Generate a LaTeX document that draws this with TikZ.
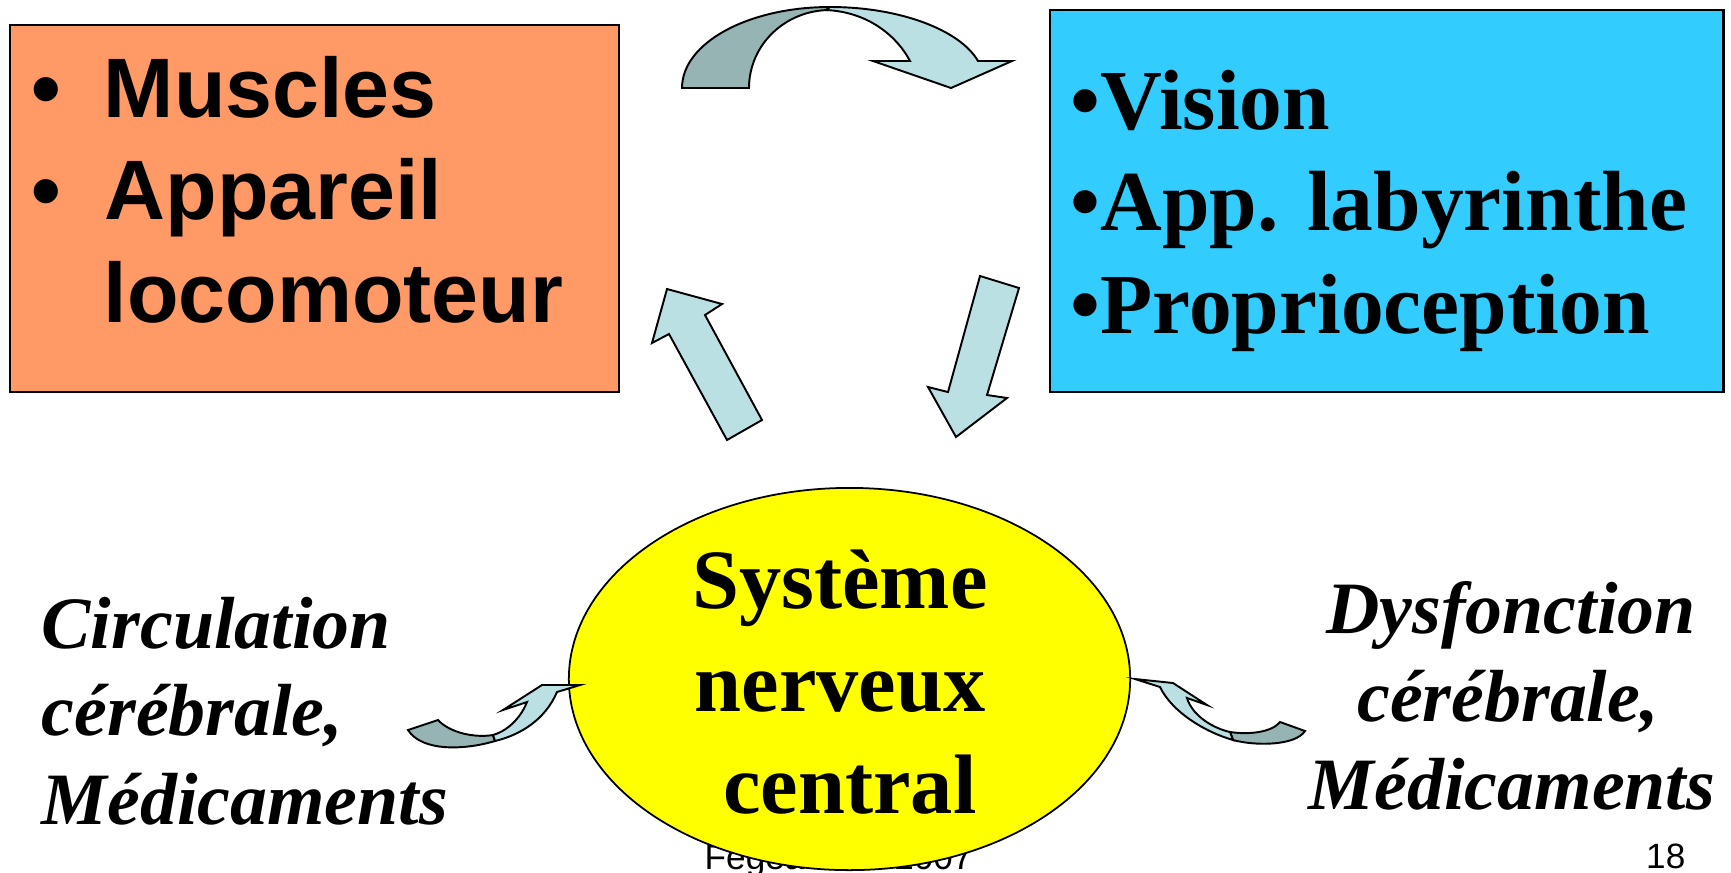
\documentclass[tikz,border=0pt]{standalone}
\usepackage{fontspec}
\setmainfont{Liberation Serif}
\newfontfamily\arialf{Liberation Sans}
\usetikzlibrary{shapes.geometric}
\definecolor{boxorange}{HTML}{FF9966}
\definecolor{boxblue}{HTML}{33CCFF}
\definecolor{boxyellow}{HTML}{FFFF00}
\definecolor{arrlight}{RGB}{186,224,228}
\definecolor{arrdark}{RGB}{150,180,180}
\tikzset{
  panel/.style={draw=black, line width=0.6pt, anchor=north west, inner sep=0pt},
  arrowlight/.style={fill=arrlight, draw=black, line width=0.55pt, line join=miter},
  arrowdark/.style={fill=arrdark, draw=black, line width=0.55pt, line join=miter},
  sanstxt/.style={inner sep=0pt, anchor=base west, font=\arialf\fontsize{24}{28}\selectfont\bfseries},
  sertxt/.style={inner sep=0pt, anchor=base west, font=\fontsize{24.3}{28}\selectfont\bfseries},
  ctrtxt/.style={inner sep=0pt, anchor=base, font=\fontsize{24}{28}\selectfont\bfseries},
  itltxt/.style={inner sep=0pt, anchor=base west, font=\fontsize{21}{25}\selectfont\bfseries\itshape},
  itctxt/.style={inner sep=0pt, anchor=base, font=\fontsize{21}{25}\selectfont\bfseries\itshape},
  foottxt/.style={inner sep=0pt, font=\arialf\fontsize{10}{12}\selectfont}
}
\begin{document}
\begin{tikzpicture}[x=0.01cm,y=-0.01cm]
\useasboundingbox (0,0) rectangle (1731,872);
\fill[white] (0,0) rectangle (1731,872);

% footer (partly hidden by the ellipse)
\node[foottxt, anchor=base west] (foot) at (704,869) {Fegeant JP 2007};
\node[foottxt, anchor=base east] (page) at (1686,868) {18};

% boxes
\node[panel, fill=boxorange, minimum width=6.09cm, minimum height=3.67cm] (orange) at (9,24) {};
\node[panel, fill=boxblue, minimum width=6.73cm, minimum height=3.82cm] (blue) at (1049,9) {};

% orange text
\node[sanstxt] (b1) at (31,117) {•};
\node[sanstxt] (t1) at (103,117) {Muscles};
\node[sanstxt] (b2) at (31,219) {•};
\node[sanstxt] (t2) at (104,219) {Appareil};
\node[sanstxt] (t3) at (103,322) {locomoteur};

% blue text
\node[sertxt] (v1) at (1070,129) {•Vision};
\node[sertxt] (v2) at (1070,230) {•App. labyrinthe};
\node[sertxt] (v3) at (1070,333) {•Proprioception};

% ellipse
\node[ellipse, draw=black, line width=0.5pt, fill=boxyellow, minimum width=5.61cm, minimum height=3.82cm, inner sep=0pt] (sns) at (849.5,679) {};
\node[ctrtxt] (s1) at (840,608) {Système};
\node[ctrtxt] (s2) at (840,711) {nerveux};
\node[ctrtxt] (s3) at (850,813) {central};

% side texts
\node[itltxt] (l1) at (41,648) {Circulation};
\node[itltxt] (l2) at (41,735) {cérébrale,};
\node[itltxt] (l3) at (41,824) {Médicaments};
\node[itctxt] (r1) at (1511,633) {Dysfonction};
\node[itctxt] (r2) at (1508,721) {cérébrale,};
\node[itctxt] (r3) at (1512,809) {Médicaments};

% top curved arrow
\draw[arrowdark] (682,88) .. controls (682,43) and (748,7) .. (830,7)
  -- (830,10) .. controls (785,10) and (749,45) .. (749,88) -- cycle;
\draw[arrowlight] (830,7) .. controls (900,7) and (960,30) .. (978,61)
  -- (1012,61) -- (951,88) -- (873,61) -- (910,61)
  .. controls (898,38) and (870,12) .. (826,10) -- cycle;

% straight arrows
\draw[arrowlight] (667,289) -- (722,304) -- (705,315) -- (762,420) -- (727,440) -- (669,334) -- (652,343) -- cycle;
\draw[arrowlight] (980,276) -- (1019,288) -- (987,395) -- (1007,398) -- (956,437) -- (928,387) -- (948,392) -- cycle;

% small left arrow
\draw[arrowdark] (408,730) -- (438,720) .. controls (450,733) and (475,738) .. (493,735)
  -- (495,741) .. controls (465,750) and (422,752) .. (408,730) -- cycle;
\draw[arrowlight] (493,735) .. controls (510,730) and (522,715) .. (527,702)
  -- (503,710) -- (542,685) -- (580,685) -- (557,692)
  .. controls (545,720) and (520,735) .. (495,741) -- cycle;

% small right arrow
\draw[arrowdark] (1230,732) .. controls (1250,735) and (1272,732) .. (1280,722)
  -- (1305,731) .. controls (1295,746) and (1255,746) .. (1233,740) -- cycle;
\draw[arrowlight] (1135,679) -- (1173,683) -- (1207,705) -- (1187,698)
  .. controls (1192,715) and (1212,728) .. (1230,732)
  -- (1233,740) .. controls (1205,732) and (1172,712) .. (1160,687) -- cycle;
\end{tikzpicture}
\end{document}
